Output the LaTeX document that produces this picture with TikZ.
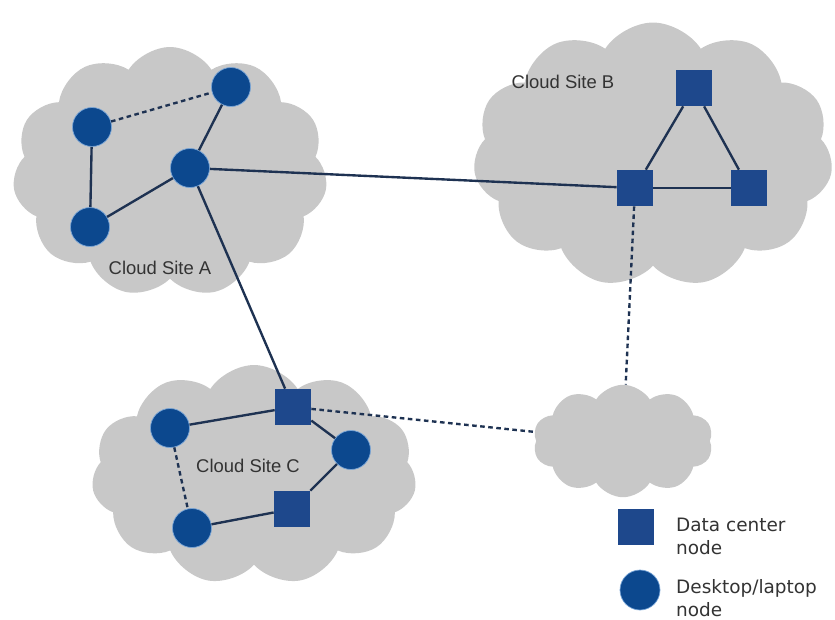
\documentclass[tikz,border=0pt]{standalone}
\usepackage{fontspec}
\setmainfont{Liberation Sans}
\newfontfamily\legendfont{DejaVu Sans}
\usetikzlibrary{shapes.symbols}
\definecolor{pcblue}{RGB}{12,72,142}
\definecolor{dcblue}{RGB}{30,72,140}
\definecolor{rimblue}{RGB}{120,165,215}
\definecolor{linkc}{RGB}{30,50,82}
\definecolor{cloudgray}{RGB}{200,200,200}
\tikzset{pc/.style={circle, fill=pcblue, draw=rimblue, line width=0.4pt, minimum size=0.78cm, inner sep=0pt},
  dc/.style={rectangle, fill=dcblue, minimum size=0.72cm, inner sep=0pt},
  site/.style={cloud, cloud puffs=11, cloud puff arc=115, fill=cloudgray, inner sep=0pt},
  link/.style={draw=linkc, line width=1.35pt},
  weak/.style={link, dash pattern=on 2.6pt off 2pt},
  sitelabel/.style={font=\fontsize{10.5}{12}\selectfont, text=black!80},
  legend/.style={font=\legendfont\fontsize{10.5}{13}\selectfont, text=black!80, align=left, anchor=west}}

\begin{document}
\begin{tikzpicture}[x=0.02cm, y=-0.02cm]
      \useasboundingbox (0,0) rectangle (835,619);
      \node [site, aspect=1.25, minimum width=6.3cm, minimum height=5.0cm] (siteA) at (170,172) {};
      \node [site, aspect=1.35, minimum width=7.2cm, minimum height=5.3cm] (siteB) at (653,155) {};
      \node [site, aspect=1.5, minimum width=6.5cm, minimum height=4.4cm] (siteC) at (254,475) {};
      \node [site, cloud puffs=10, aspect=1.6, minimum width=3.6cm, minimum height=2.25cm] (wan) at (623,441) {};
      \node [sitelabel] (labA) at (160,268) {Cloud Site A};
      \node [sitelabel] (labB) at (563,82) {Cloud Site B};
      \node [sitelabel] (labC) at (248,466) {Cloud Site C};
      \node [pc] (a1) at (92,127) {};
      \node [pc] (a2) at (231,87) {};
      \node [pc] (a3) at (190,168) {};
      \node [pc] (a4) at (90,227) {};
      \node [dc] (b1) at (694,88) {};
      \node [dc] (b2) at (635,188) {};
      \node [dc] (b3) at (749,188) {};
      \node [pc] (c1) at (170,428) {};
      \node [dc] (c2) at (293,407) {};
      \node [pc] (c3) at (351,450) {};
      \node [dc] (c4) at (292,509) {};
      \node [pc] (c5) at (192,528) {};
      \draw [link] (a1) -- (a4);
      \draw [weak] (a1) -- (a2);
      \draw [link] (a2) -- (a3);
      \draw [link] (a3) -- (a4);
      \draw [link] (a3) -- (b2);
      \draw [link] (a3) -- (c2);
      \draw [link] (b1) -- (b2);
      \draw [link] (b1) -- (b3);
      \draw [link] (b2) -- (b3);
      \draw [weak] (b2) -- (wan);
      \draw [link] (c2) -- (c1);
      \draw [link] (c2) -- (c3);
      \draw [link] (c3) -- (c4);
      \draw [link] (c4) -- (c5);
      \draw [weak] (c1) -- (c5);
      \draw [weak] (c2) -- (wan);
      \node [dc] (keydc) at (636,527) {};
      \node [pc, minimum size=0.8cm] (keypc) at (640,590) {};
      \node [legend] (keydctext) at (670,536) {Data center\\node};
      \node [legend] (keypctext) at (670,598) {Desktop/laptop\\node};
    \end{tikzpicture}
\end{document}
